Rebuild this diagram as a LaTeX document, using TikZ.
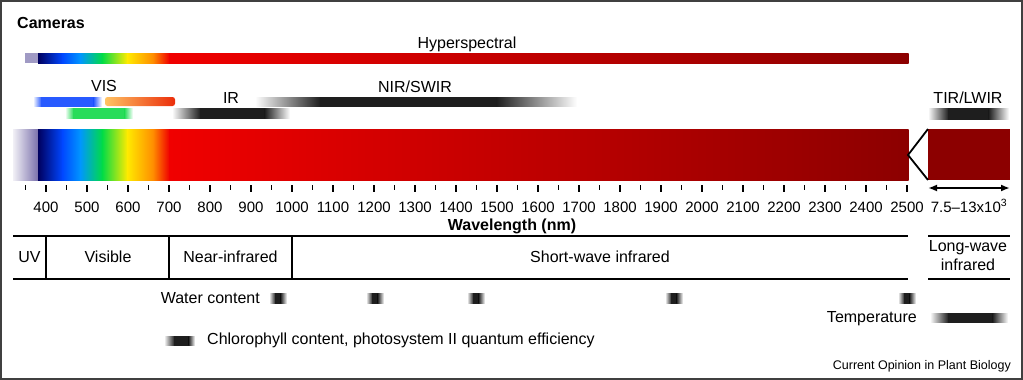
\documentclass[tikz,border=0pt]{standalone}
\usepackage{fontspec}
\setmainfont{Liberation Sans}
\usetikzlibrary{arrows.meta}

\definecolor{specLav}{RGB}{120,110,170}
\definecolor{specNavy}{RGB}{0,0,95}
\definecolor{specBlue}{RGB}{0,70,255}
\definecolor{specSky}{RGB}{0,150,255}
\definecolor{specGreen}{RGB}{0,220,70}
\definecolor{specYellow}{RGB}{255,235,0}
\definecolor{specOrange}{RGB}{255,140,0}
\definecolor{specRed}{RGB}{240,0,0}
\definecolor{specDark}{RGB}{140,0,0}
\definecolor{barGray}{RGB}{30,30,30}
\definecolor{visBlue}{RGB}{40,90,255}
\definecolor{visGreen}{RGB}{40,220,90}
\definecolor{visLight}{RGB}{255,195,100}
\definecolor{visOrange}{RGB}{255,130,0}
\definecolor{visRed}{RGB}{235,45,10}

\newcommand{\drawSpectrum}[2]{% top y, bottom y (380 nm up to 2500 nm)
  \foreach \xa/\xb/\ca/\cb in {38/62/specNavy/specBlue,62/80/specBlue/specSky,
      80/102/specSky/specGreen,102/127/specGreen/specYellow,
      127/153/specYellow/specOrange,153/169/specOrange/specRed,
      169/908/specRed/specDark}
    \shade[left color=\ca,right color=\cb] (\xa,#1) rectangle (\xb+0.5,#2);
}
\newcommand{\drawBar}[7]{% x1, x2, top y, bottom y, left fade, right fade, colour
  \shade[left color=white,right color=#7] (#1,#3) rectangle (#1+#5+0.5,#4);
  \shade[left color=#7,right color=#7] (#1+#5,#3) rectangle (#2-#6,#4);
  \shade[left color=#7,right color=white] (#2-#6-0.5,#3) rectangle (#2,#4);
}

\begin{document}
\begin{tikzpicture}[x=1pt,y=-1pt,>={Latex[length=9pt,width=7pt]},
  lbl/.style={inner sep=0pt,anchor=base,font=\fontsize{16}{19}\selectfont},
  num/.style={inner sep=0pt,anchor=base,font=\fontsize{15}{18}\selectfont}]
\useasboundingbox (0,0) rectangle (1023,380);
% Frame
\draw[line width=1.5pt,black!75] (1,1) rectangle (1022,379);

% Title
\node[lbl,anchor=base west,font=\fontsize{16}{19}\selectfont\bfseries] (cameras) at (17,28) {Cameras};

% Hyperspectral camera
\fill[specLav!70!white] (25,53) rectangle (38.5,63);
\drawSpectrum{53}{63}
\node[lbl] (hyper) at (467,48) {Hyperspectral};

% VIS cameras
\drawBar{33}{102}{97}{106}{8}{8}{visBlue}
\shade[left color=visLight,middle color=visOrange,right color=visRed,
  rounded corners=2.5pt] (105,97) rectangle (175,106);
\drawBar{65}{133}{108}{118}{8}{8}{visGreen}
\node[lbl] (vis) at (104,91) {VIS};

% IR and NIR/SWIR cameras
\drawBar{172}{290}{108}{118}{28}{25}{barGray}
\node[lbl] (ir) at (231,103) {IR};
\drawBar{255}{577}{97}{106}{65}{80}{barGray}
\node[lbl] (nir) at (415,92) {NIR/SWIR};

% TIR/LWIR camera
\drawBar{928}{1009}{108}{119}{20}{20}{barGray}
\node[lbl] (tir) at (968,103) {TIR/LWIR};

% Spectrum
\shade[left color=white!90!specLav,right color=specLav] (13,129) rectangle (38.5,180);
\drawSpectrum{129}{180}

% Break to the long-wave part
\coordinate (brk) at (908,155);
\coordinate (brkT) at (928,129);
\coordinate (brkB) at (928,180);
\fill[specDark] (brkT) rectangle (1010,180);
\draw[line width=1.8pt] (brkT) -- (brk) -- (brkB);

% Axis
\foreach \w in {350,450,...,2450}
  \draw[line width=1.6pt] ({46+(\w-400)*0.41},185) -- ++(0,5);
\foreach \w in {400,500,...,2500}{
  \draw[line width=1.6pt] ({46+(\w-400)*0.41},185) -- ++(0,7);
  \node[num] (t\w) at ({46+(\w-400)*0.41},212) {\w};
}
\node[lbl,font=\fontsize{16}{19}\selectfont\bfseries] (wl) at (512,230) {Wavelength (nm)};

% Long-wave range
\coordinate (lwA) at (928,188);
\coordinate (lwB) at (1010,188);
\draw[<->,line width=1.8pt] (lwA) -- (lwB);
\node[num] (lwnum) at (969,212) {7.5–13x10\textsuperscript{3}};

% Regions
\draw[line width=2pt] (13,236) -- (908,236) (13,279) -- (908,279)
  (928,236) -- (1010,236) (928,279) -- (1010,279);
\foreach \x in {46,169,292}
  \draw[line width=1.5pt] (\x,236) -- (\x,279);
\node[lbl] (uv) at (29.5,262) {UV};
\node[lbl] (visible) at (108,262) {Visible};
\node[lbl] (near) at (230.5,262) {Near-infrared};
\node[lbl] (short) at (600,262) {Short-wave infrared};
\node[lbl,anchor=center,align=center] (long) at (968,256) {Long-wave\\infrared};

% Traits
\foreach \x in {278,375,476,674,907}{
  \drawBar{\x-9}{\x+9}{293}{303}{6}{6}{barGray}
}
\node[lbl,anchor=base east] (water) at (260,303) {Water content};
\drawBar{930}{1008}{313}{322}{18}{15}{barGray}
\node[lbl,anchor=base east] (temp) at (917,322) {Temperature};
\drawBar{164}{195}{336}{345}{10}{6}{barGray}
\node[lbl,anchor=base west] (chl) at (207,344) {Chlorophyll content, photosystem II quantum efficiency};

% Credit
\node[lbl,anchor=base east,font=\fontsize{12.5}{15}\selectfont] (credit) at (1011,369) {Current Opinion in Plant Biology};
\end{tikzpicture}
\end{document}
